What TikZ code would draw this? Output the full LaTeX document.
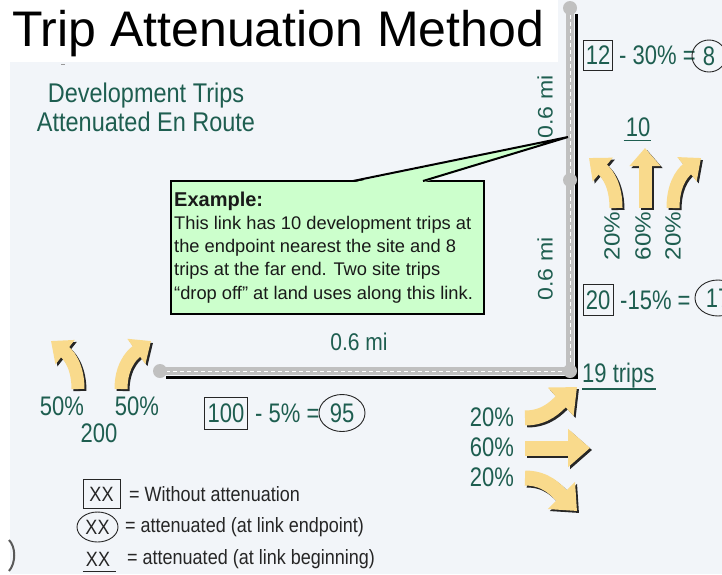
\documentclass[tikz,border=0pt]{standalone}
\usepackage{fontspec}
\usepackage{graphicx}
\setmainfont{Liberation Sans}
\usetikzlibrary{arrows.meta,shapes.geometric}
\definecolor{tg}{RGB}{30,94,80}
\definecolor{slidebg}{RGB}{242,245,249}
\definecolor{ay}{RGB}{249,218,140}
\definecolor{cg}{RGB}{204,255,204}
\definecolor{rg}{RGB}{192,192,192}
\newcommand\vs[1]{\scalebox{1}[1.22]{#1}}
\newcommand\vd[1]{\scalebox{1}[1.15]{#1}}
\newcommand\hs[1]{\scalebox{1.1}[1]{#1}}
\newcommand\blockarr[2][]{\draw[afill,#1,draw=black!85,shift={(2,2)}] #2; \draw[afill,#1] #2;}
\begin{document}
\begin{tikzpicture}[x=1pt,y=-1pt,
  gt/.style={text=tg,inner sep=0pt,font=\fontsize{22}{24}\selectfont},
  lg/.style={text=black!85,inner sep=0pt,font=\fontsize{18}{20}\selectfont},
  ext/.style={text=black!90,inner sep=0pt,anchor=base west,font=\fontsize{18.3}{20}\selectfont},
  numbox/.style={gt,draw=black!85,line width=0.9pt,minimum height=31pt},
  numell/.style={gt,ellipse,draw=black!85,line width=0.9pt,minimum height=36pt},
  afill/.style={line width=13pt,draw=ay,-{Triangle[length=18pt,width=30pt]}},
  abig/.style={line width=15pt,-{Triangle[length=22pt,width=37pt]}},
  road/.style={rg,line width=8pt},
  roaddash/.style={white,line width=0.9pt,dash pattern=on 4pt off 3pt},
]
\useasboundingbox (0,0) rectangle (722,574);
\clip (0,0) rectangle (722,574);
\fill[white] (0,0) rectangle (722,574);
\fill[slidebg] (10,0) rectangle (722,574);
\fill[white] (0,0) rectangle (558,62);
\draw[black!40,line width=0.8pt] (61,64) -- (65,64);
\draw[black!65,line width=2pt] (9,540) .. controls (16,547) and (16,563) .. (9,571);

% title
\node[anchor=base west,inner sep=0pt,font=\fontsize{50}{52}\selectfont] (title) at (12,46) {Trip Attenuation Method};

% heading
\node[gt,anchor=base,font=\fontsize{23.5}{26}\selectfont] (dev1) at (146,102) {\vd{Development Trips}};
\node[gt,anchor=base,font=\fontsize{23.5}{26}\selectfont] (dev2) at (146,131) {\vd{Attenuated En Route}};

% road
\coordinate (rtop) at (570,8);
\coordinate (rmid) at (570,180);
\coordinate (rcor) at (570,371);
\coordinate (rleft) at (160,371);
\draw[black,line width=3pt] ([shift={(6,6)}]rtop) -- ([shift={(6,6)}]rcor) -- ([shift={(6,6)}]rleft);
\draw[road] (rtop) -- (rcor) -- (rleft);
\draw[roaddash] (rtop) -- (rcor) -- (rleft);
\foreach \p in {rtop,rmid,rcor,rleft} \fill[rg] (\p) circle (7);

% callout
\node[draw=black,line width=2pt,fill=cg,anchor=north west,minimum width=313pt,minimum height=133pt,inner sep=0pt] (ex) at (170,180) {};
\coordinate (tip) at (568,137);
\coordinate (pl) at (353,181);
\coordinate (pr) at (423,181);
\fill[cg] (353,182.5) -- (tip) -- (423,182.5) -- cycle;
\draw[line width=2pt,line join=bevel] (pl) -- (tip) -- (pr);
\node[ext,font=\bfseries\fontsize{20}{22}\selectfont] (exh) at (174,206) {Example:};
\node[ext] (ex1) at (174,229) {This link has 10 development trips at};
\node[ext] (ex2) at (174,252) {the endpoint nearest the site and 8};
\node[ext] (ex3) at (174,275) {trips at the far end. Two site trips};
\node[ext] (ex4) at (174,299) {“drop off” at land uses along this link.};

% distance labels
\node[gt,rotate=90,font=\fontsize{21}{22}\selectfont] (d1) at (545,107) {\hs{0.6 mi}};
\node[gt,rotate=90,font=\fontsize{21}{22}\selectfont] (d2) at (545,269) {\hs{0.6 mi}};
\node[gt,font=\fontsize{21}{22}\selectfont] (d3) at (359,342) {\vd{0.6 mi}};

% row 1
\node[numbox,minimum width=29pt,minimum height=30pt] (b12) at (598,55) {\vs{12}};
\node[gt,anchor=west] (t12) at (619,55) {\vs{- 30\% =}};
\node[numell,minimum width=34pt,minimum height=32pt] (c8) at (709,56) {\vs{8}};

\node[gt] (n10) at (638,127) {\vs{10}};
\draw[tg,line width=1.3pt] ([shift={(-2,4)}]n10.south west) -- ([shift={(1,4)}]n10.south east);

% upper arrows
\blockarr{(616,208) .. controls (616,186) and (608,174) .. (589,158)}
\blockarr{(645,208) -- (645,148)}
\blockarr{(673,208) .. controls (673,186) and (681,174) .. (701,158)}
\node[gt,rotate=90] (p1) at (612,236) {\hs{20\%}};
\node[gt,rotate=90] (p2) at (643,236) {\hs{60\%}};
\node[gt,rotate=90] (p3) at (673,236) {\hs{20\%}};

% row 2
\node[numbox,minimum width=30pt] (b20) at (598,300) {\vs{20}};
\node[gt,anchor=west] (t20) at (620,300) {\vs{-15\% =}};
\node[numell,minimum width=46pt] (c17) at (718,298) {\vs{17}};

% 19 trips
\node[gt,anchor=base west] (n19) at (582,382) {\vs{19 trips}};
\draw[tg,line width=1.3pt] ([shift={(0,7)}]n19.base west) -- ([shift={(1,7)}]n19.base east);

% lower right arrows
\blockarr[abig]{(525,418) .. controls (546,418) and (556,406) .. (577,387)}
\blockarr[abig]{(525,448) -- (590,448)}
\blockarr[abig]{(525,478) .. controls (546,478) and (556,490) .. (577,511)}
\node[gt] (r1) at (492,417) {\vs{20\%}};
\node[gt] (r2) at (492,447) {\vs{60\%}};
\node[gt] (r3) at (492,477) {\vs{20\%}};

% left arrows
\blockarr{(78,389) .. controls (78,368) and (70,356) .. (51,341)}
\blockarr{(121,389) .. controls (121,368) and (130,356) .. (151,341)}
\node[gt] (l1) at (62,406) {\vs{50\%}};
\node[gt] (l2) at (137,406) {\vs{50\%}};
\node[gt] (l3) at (99,433) {\vs{200}};

% row 3
\node[numbox,minimum width=43pt,minimum height=32pt] (b100) at (226,413) {\vs{100}};
\node[gt,anchor=west] (t100) at (255,413) {\vs{- 5\% =}};
\node[numell,minimum width=46pt,minimum height=37pt] (c95) at (342,413) {\vs{95}};

% legend
\node[lg,draw=black!85,line width=0.9pt,minimum width=37pt,minimum height=29pt] (lbox) at (101.5,494) {\vd{XX}};
\node[lg,anchor=west] (lboxt) at (129,494) {\vd{= Without attenuation}};
\node[lg,ellipse,draw=black!85,line width=0.9pt,minimum width=41pt,minimum height=30pt] (lell) at (97.5,527) {\vd{XX}};
\node[lg,anchor=west] (lellt) at (125,527) {\vd{= attenuated (at link endpoint)}};
\node[lg] (lul) at (98,559) {\vd{XX}};
\draw[black!85,line width=1pt] ([shift={(-3,5)}]lul.south west) -- ([shift={(6,5)}]lul.south east);
\node[lg,anchor=west] (lult) at (127,559) {\vd{= attenuated (at link beginning)}};
\end{tikzpicture}
\end{document}
